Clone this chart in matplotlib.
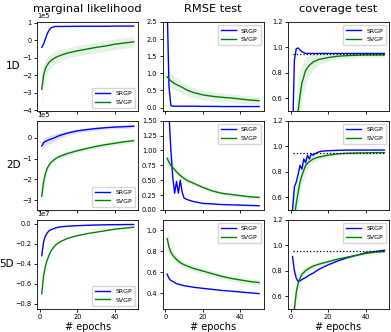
import matplotlib
matplotlib.use('Agg')
import matplotlib.pyplot as plt
from matplotlib.ticker import ScalarFormatter
import numpy as np

EP = [1, 2, 3, 4, 5, 6, 8, 10, 12, 15, 20, 25, 30, 35, 40, 45, 50]

# ---- marginal likelihood (1D, 2D in 1e5 ; 5D in 1e7) ----
ml_1d_srgp = [-0.4, -0.2, 0.1, 0.4, 0.6, 0.72, 0.8, 0.8, 0.8, 0.8, 0.81, 0.81, 0.81, 0.81, 0.82, 0.82, 0.82]
ml_1d_svgp = [-2.8, -2.0, -1.6, -1.4, -1.25, -1.15, -1.0, -0.9, -0.82, -0.72, -0.6, -0.5, -0.4, -0.32, -0.22, -0.15, -0.08]
ml_2d_srgp = [-0.4, -0.25, -0.18, -0.14, -0.1, -0.07, 0.0, 0.08, 0.14, 0.22, 0.32, 0.38, 0.43, 0.47, 0.5, 0.52, 0.54]
ml_2d_svgp = [-2.8, -2.1, -1.7, -1.45, -1.3, -1.18, -1.03, -0.92, -0.85, -0.75, -0.63, -0.52, -0.42, -0.34, -0.27, -0.2, -0.15]
ml_5d_srgp = [-0.32, -0.18, -0.12, -0.09, -0.07, -0.06, -0.045, -0.035, -0.03, -0.025, -0.02, -0.016, -0.013, -0.011, -0.01, -0.009, -0.008]
ml_5d_svgp = [-0.70, -0.52, -0.42, -0.36, -0.31, -0.27, -0.22, -0.19, -0.17, -0.145, -0.12, -0.1, -0.085, -0.07, -0.055, -0.045, -0.035]

# ---- RMSE test ----
rmse_1d_srgp = [3.0, 0.6, 0.06, 0.04, 0.04, 0.04, 0.04, 0.04, 0.04, 0.04, 0.035, 0.035, 0.03, 0.03, 0.03, 0.03, 0.03]
rmse_1d_svgp = [0.9, 0.83, 0.78, 0.74, 0.7, 0.67, 0.62, 0.56, 0.5, 0.44, 0.37, 0.33, 0.3, 0.28, 0.25, 0.22, 0.2]
rmse_2d_srgp_ep = [1, 2, 3, 4, 5, 6, 7, 8, 9, 10, 12, 15, 20, 25, 30, 40, 50]
rmse_2d_srgp = [3.0, 1.6, 1.0, 0.55, 0.28, 0.48, 0.28, 0.5, 0.3, 0.2, 0.17, 0.14, 0.11, 0.1, 0.09, 0.08, 0.07]
rmse_2d_svgp = [0.87, 0.8, 0.75, 0.71, 0.68, 0.64, 0.58, 0.53, 0.49, 0.45, 0.38, 0.32, 0.28, 0.26, 0.24, 0.22, 0.21]
rmse_5d_srgp = [0.58, 0.54, 0.52, 0.51, 0.5, 0.49, 0.48, 0.47, 0.465, 0.455, 0.445, 0.435, 0.425, 0.418, 0.41, 0.402, 0.395]
rmse_5d_svgp = [0.92, 0.84, 0.79, 0.76, 0.74, 0.72, 0.69, 0.67, 0.655, 0.635, 0.61, 0.585, 0.56, 0.54, 0.525, 0.51, 0.5]

# ---- coverage test ----
cov_1d_srgp = [0.3, 0.9, 0.99, 0.995, 0.98, 0.965, 0.952, 0.952, 0.952, 0.952, 0.952, 0.952, 0.952, 0.952, 0.952, 0.952, 0.952]
cov_1d_svgp = [0.1, 0.2, 0.35, 0.5, 0.62, 0.72, 0.82, 0.86, 0.885, 0.905, 0.92, 0.93, 0.935, 0.938, 0.94, 0.94, 0.94]
cov_2d_srgp_ep = [1, 2, 3, 4, 5, 6, 7, 8, 9, 10, 11, 12, 14, 16, 20, 30, 50]
cov_2d_srgp = [0.5, 0.68, 0.72, 0.78, 0.85, 0.82, 0.9, 0.87, 0.93, 0.9, 0.94, 0.93, 0.95, 0.96, 0.965, 0.97, 0.97]
cov_2d_svgp = [0.3, 0.45, 0.55, 0.64, 0.72, 0.77, 0.85, 0.88, 0.9, 0.915, 0.93, 0.94, 0.945, 0.947, 0.948, 0.95, 0.95]
cov_5d_srgp = [0.91, 0.8, 0.74, 0.715, 0.72, 0.73, 0.745, 0.765, 0.78, 0.81, 0.845, 0.875, 0.9, 0.92, 0.94, 0.95, 0.96]
cov_5d_svgp = [0.3, 0.5, 0.63, 0.7, 0.74, 0.77, 0.8, 0.82, 0.835, 0.85, 0.87, 0.89, 0.905, 0.92, 0.935, 0.945, 0.95]
target_cov = 0.95

# spread of the individual runs (half width of the faint band), same epochs as EP
spr_ml_1d_svgp = [1.0, 0.6, 0.5, 0.45, 0.4, 0.38, 0.35, 0.35, 0.33, 0.3, 0.3, 0.3, 0.3, 0.3, 0.3, 0.3, 0.3]
spr_ml_2d_srgp = [0.15, 0.2, 0.2, 0.2, 0.2, 0.2, 0.18, 0.15, 0.12, 0.1, 0.1, 0.08, 0.08, 0.08, 0.08, 0.08, 0.08]
spr_ml_2d_svgp = [0.4, 0.25, 0.2, 0.15, 0.12, 0.1, 0.1, 0.1, 0.1, 0.1, 0.1, 0.1, 0.1, 0.1, 0.1, 0.1, 0.1]
spr_rmse_1d_svgp = [0.25, 0.25, 0.22, 0.2, 0.2, 0.18, 0.18, 0.16, 0.15, 0.15, 0.14, 0.13, 0.13, 0.12, 0.12, 0.12, 0.12]
spr_rmse_2d_svgp = [0.12, 0.1, 0.08, 0.07, 0.06, 0.05, 0.05, 0.04, 0.04, 0.04, 0.03, 0.03, 0.03, 0.03, 0.03, 0.03, 0.03]
spr_rmse_5d_svgp = [0.1, 0.06, 0.05, 0.04, 0.04, 0.035, 0.03, 0.03, 0.03, 0.03, 0.025, 0.025, 0.025, 0.025, 0.025, 0.025, 0.025]
spr_cov_1d_svgp = [0.2, 0.25, 0.25, 0.25, 0.2, 0.15, 0.1, 0.08, 0.06, 0.04, 0.03, 0.02, 0.02, 0.02, 0.02, 0.02, 0.02]
spr_cov_2d_svgp = [0.2, 0.2, 0.15, 0.12, 0.1, 0.08, 0.06, 0.04, 0.03, 0.02, 0.015, 0.01, 0.01, 0.01, 0.01, 0.01, 0.01]
spr_cov_5d_svgp = [0.1, 0.1, 0.08, 0.06, 0.05, 0.04, 0.03, 0.02, 0.02, 0.02, 0.015, 0.01, 0.01, 0.01, 0.01, 0.01, 0.01]

col_titles = ['marginal likelihood', 'RMSE test', 'coverage test']
row_labels = ['1D', '2D', '5D']

BLUE = '#0000ff'
GREEN = '#008000'


class FixedOrderFormatter(ScalarFormatter):
    """scalar formatter with a fixed power of ten in the offset text"""
    def __init__(self, order):
        self._order = order
        super().__init__(useMathText=False)

    def _set_order_of_magnitude(self):
        self.orderOfMagnitude = self._order


fig, axes = plt.subplots(3, 3, figsize=(3.91, 3.32), dpi=100)
fig.subplots_adjust(left=0.095, right=0.995, bottom=0.07, top=0.934, wspace=0.24, hspace=0.11)

panels = {
    (0, 0): (EP, ml_1d_srgp, ml_1d_svgp, None, spr_ml_1d_svgp, 5, (-4.05, 1.06)),
    (1, 0): (EP, ml_2d_srgp, ml_2d_svgp, spr_ml_2d_srgp, spr_ml_2d_svgp, 5, (-3.45, 0.8)),
    (2, 0): (EP, ml_5d_srgp, ml_5d_svgp, None, None, 7, (-0.85, 0.04)),
    (0, 1): (EP, rmse_1d_srgp, rmse_1d_svgp, None, spr_rmse_1d_svgp, 0, (-0.1, 2.5)),
    (1, 1): (rmse_2d_srgp_ep, rmse_2d_srgp, rmse_2d_svgp, None, spr_rmse_2d_svgp, 0, (0, 1.5)),
    (2, 1): (EP, rmse_5d_srgp, rmse_5d_svgp, None, spr_rmse_5d_svgp, 0, (0.25, 1.1)),
    (0, 2): (EP, cov_1d_srgp, cov_1d_svgp, None, spr_cov_1d_svgp, 0, (0.5, 1.2)),
    (1, 2): (cov_2d_srgp_ep, cov_2d_srgp, cov_2d_svgp, None, spr_cov_2d_svgp, 0, (0.5, 1.2)),
    (2, 2): (EP, cov_5d_srgp, cov_5d_svgp, None, spr_cov_5d_svgp, 0, (0.5, 1.2)),
}

for (r, c), (sr_x, sr, sv, sr_spr, sv_spr, order, ylim) in panels.items():
    ax = axes[r, c]
    scale = 10.0 ** order
    sr = np.array(sr) * scale
    sv = np.array(sv) * scale
    if sr_spr is not None:
        s = np.array(sr_spr) * scale
        ax.fill_between(sr_x, sr - s, sr + s, color=BLUE, alpha=0.12, lw=0)
    if sv_spr is not None:
        s = np.array(sv_spr) * scale
        ax.fill_between(EP, sv - s, sv + s, color=GREEN, alpha=0.1, lw=0)
    ax.plot(sr_x, sr, color=BLUE, lw=1.0, label='SRGP')
    ax.plot(EP, sv, color=GREEN, lw=1.0, label='SVGP')
    if c == 2:
        ax.plot([EP[0], EP[-1]], [target_cov, target_cov], color='black', ls=':', lw=0.9)
    ax.set_ylim(ylim[0] * scale, ylim[1] * scale)
    if order:
        ax.yaxis.set_major_formatter(FixedOrderFormatter(order))
    ax.set_xlim(-1.45, 52.45)
    ax.set_xticks([0, 20, 40])
    if r < 2:
        ax.set_xticklabels([])
    else:
        ax.set_xlabel('# epochs', fontsize=7, labelpad=1)
    ax.tick_params(labelsize=4.8, length=2.5, width=0.6, pad=1.5)
    ax.yaxis.get_offset_text().set_fontsize(4.8)
    for sp in ax.spines.values():
        sp.set_linewidth(0.6)
    ax.legend(loc='lower right' if c == 0 else 'upper right', fontsize=4.5,
              handlelength=2.4, borderpad=0.5, labelspacing=0.5)

for c, t in enumerate(col_titles):
    axes[0, c].set_title(t, fontsize=8.2, y=1.0, pad=7)

axes[0, 0].set_yticks(np.array([-4, -3, -2, -1, 0, 1]) * 1e5)
axes[1, 0].set_yticks(np.array([-3, -2, -1, 0]) * 1e5)
axes[2, 0].set_yticks(np.array([-0.8, -0.6, -0.4, -0.2, 0.0]) * 1e7)
axes[1, 1].set_yticks([0, 0.25, 0.5, 0.75, 1.0, 1.25, 1.5])
axes[2, 1].set_yticks([0.4, 0.6, 0.8, 1.0])
for r in range(3):
    axes[r, 2].set_yticks([0.6, 0.8, 1.0, 1.2])

for r, lab in enumerate(row_labels):
    axes[r, 0].set_ylabel(lab, fontsize=7.5, rotation=0, ha='right', va='center', labelpad=1)

fig.savefig('out.png', dpi=100)
